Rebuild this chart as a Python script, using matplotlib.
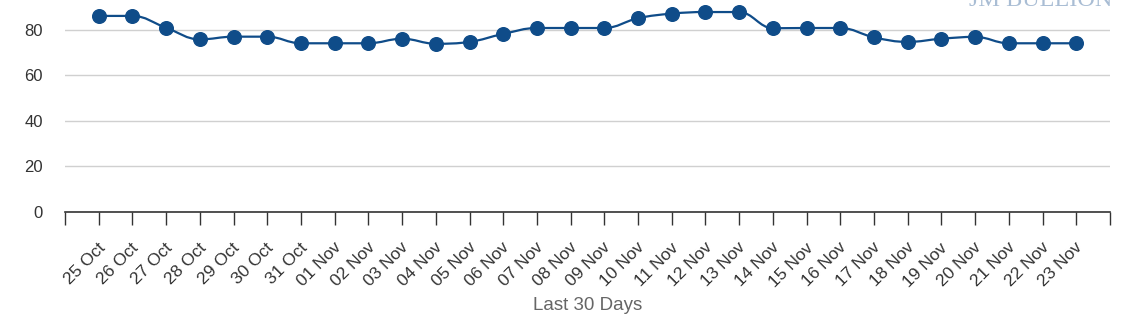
import numpy as np
import matplotlib.pyplot as plt
import matplotlib.transforms as mtransforms
from matplotlib.path import Path
from matplotlib.patches import PathPatch

plt.rcParams['font.family'] = ['Liberation Sans', 'DejaVu Sans']

days = ["25 Oct", "26 Oct", "27 Oct", "28 Oct", "29 Oct", "30 Oct", "31 Oct",
        "01 Nov", "02 Nov", "03 Nov", "04 Nov", "05 Nov", "06 Nov", "07 Nov",
        "08 Nov", "09 Nov", "10 Nov", "11 Nov", "12 Nov", "13 Nov", "14 Nov",
        "15 Nov", "16 Nov", "17 Nov", "18 Nov", "19 Nov", "20 Nov", "21 Nov",
        "22 Nov", "23 Nov"]
values = [86.0, 86.0, 80.8, 75.7, 76.9, 76.9, 74.0,
          74.0, 74.0, 76.0, 73.8, 74.6, 78.1, 80.7,
          80.7, 80.7, 85.0, 87.0, 87.7, 87.7, 80.6,
          80.7, 80.7, 76.6, 74.6, 76.0, 76.8, 74.0,
          74.0, 74.0]
yticks = [0, 20, 40, 60, 80, 100]

line_col = '#0f4c89'


def spline_path(xs, ys, smoothing=1.5):
    # highcharts-like bezier spline
    n = len(xs)
    denom = smoothing + 1
    lc = [(xs[i], ys[i]) for i in range(n)]
    rc = [(xs[i], ys[i]) for i in range(n)]
    for i in range(1, n - 1):
        px, py = xs[i], ys[i]
        lx, ly = xs[i - 1], ys[i - 1]
        nx, ny = xs[i + 1], ys[i + 1]
        lcx = (smoothing * px + lx) / denom
        lcy = (smoothing * py + ly) / denom
        rcx = (smoothing * px + nx) / denom
        rcy = (smoothing * py + ny) / denom
        if rcx != lcx:
            corr = (rcy - lcy) * (rcx - px) / (rcx - lcx) + py - rcy
            lcy += corr
            rcy += corr
        if lcy > ly and lcy > py:
            lcy = max(ly, py)
            rcy = 2 * py - lcy
        elif lcy < ly and lcy < py:
            lcy = min(ly, py)
            rcy = 2 * py - lcy
        if rcy > ny and rcy > py:
            rcy = max(ny, py)
            lcy = 2 * py - rcy
        elif rcy < ny and rcy < py:
            rcy = min(ny, py)
            lcy = 2 * py - rcy
        lc[i] = (lcx, lcy)
        rc[i] = (rcx, rcy)
    verts = [(xs[0], ys[0])]
    codes = [Path.MOVETO]
    for i in range(1, n):
        verts += [rc[i - 1], lc[i], (xs[i], ys[i])]
        codes += [Path.CURVE4] * 3
    return Path(verts, codes)


fig = plt.figure(figsize=(11.29, 3.31), dpi=100)
ax = fig.add_axes([65 / 1129, 1 - 212 / 331, 1045 / 1129, 228 / 331])

x = np.arange(len(days))
ax.add_patch(PathPatch(spline_path(x, values), fill=False, edgecolor=line_col,
                       lw=1.6, zorder=3))
ax.plot(x, values, 'o', color=line_col, markersize=9.8, zorder=4)

ax.set_xlim(-1, len(days))
ax.set_ylim(0, 100)
ax.set_yticks(yticks)
ax.set_yticklabels([str(v) if v < 100 else '' for v in yticks])
ax.grid(axis='y', color='#d0d0d0', lw=1)
ax.set_axisbelow(True)

for s in ['top', 'right', 'left']:
    ax.spines[s].set_visible(False)
ax.spines['bottom'].set_color('#333333')
ax.spines['bottom'].set_linewidth(1.2)

ax.tick_params(axis='x', length=9.5, width=1, color='#333333', pad=13,
               labelsize=12.5, labelcolor='#333333')
ax.tick_params(axis='y', length=0, pad=16, labelsize=12, labelcolor='#333333')

ax.set_xticks(np.arange(-1, len(days) + 1))
ax.set_xticklabels([''] + days + [''])
shift = mtransforms.ScaledTranslation(4 / 100, -2 / 100, fig.dpi_scale_trans)
for lab in ax.get_xticklabels():
    lab.set_rotation(45)
    lab.set_ha('right')
    lab.set_va('center')
    lab.set_rotation_mode('anchor')
    lab.set_transform(lab.get_transform() + shift)

fig.text(587.5 / 1129, 1 - 305 / 331, "Last 30 Days", ha='center', va='center',
         fontsize=13.5, color='#666666')
fig.text(1041 / 1129, 1 - 6 / 331, "JM BULLION", ha='center', va='baseline',
         fontsize=17.5, color='#a9bdd4', family='Liberation Serif')

fig.savefig('out.png', dpi=100)
